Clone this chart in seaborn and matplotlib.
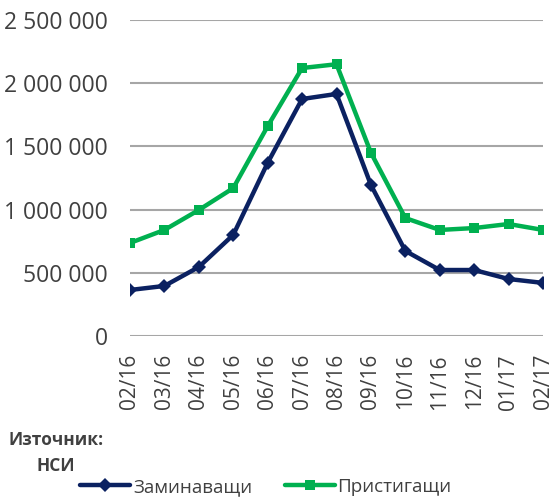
import matplotlib
matplotlib.use("Agg")
import matplotlib.pyplot as plt
import seaborn as sns
import pandas as pd
from matplotlib.ticker import FuncFormatter
from matplotlib.lines import Line2D

months = ["02/16", "03/16", "04/16", "05/16", "06/16", "07/16", "08/16",
          "09/16", "10/16", "11/16", "12/16", "01/17", "02/17"]
departing = [364000, 396000, 546000, 800000, 1370000, 1875000, 1915000,
             1195000, 673000, 522000, 522000, 451000, 420000]
arriving = [736000, 839000, 997000, 1170000, 1660000, 2120000, 2150000,
            1450000, 933000, 839000, 854000, 886000, 839000]
series_names = ["Заминаващи", "Пристигащи"]
colors = ["#0b2161", "#00b050"]
y_ticks = [0, 500000, 1000000, 1500000, 2000000, 2500000]

sns.set_theme(style="white")
plt.rcParams["font.family"] = ["Open Sans", "DejaVu Sans"]

df = pd.DataFrame({
    "x": list(range(len(months))) * 2,
    "value": departing + arriving,
    "series": [series_names[0]] * len(months) + [series_names[1]] * len(months),
})

fig = plt.figure(figsize=(5.59, 4.97), dpi=100)
ax = fig.add_axes([130 / 559, 1 - 336 / 497, (543 - 130) / 559, (336 - 20) / 497])

sns.lineplot(data=df, x="x", y="value", hue="series", style="series",
             palette=colors, markers=["D", "s"], dashes=False,
             linewidth=3.2, markersize=7, markeredgewidth=0,
             ax=ax, legend=False)

ax.set_xlim(0, len(months) - 1)
ax.set_ylim(0, 2500000)
ax.set_yticks(y_ticks)
ax.yaxis.set_major_formatter(FuncFormatter(lambda v, p: f"{int(v):,}".replace(",", " ")))
ax.set_xticks(range(len(months)))
ax.set_xticklabels(months, rotation=90)
ax.grid(axis="y", color="#a6a6a6", linewidth=1.5)
ax.grid(axis="x", visible=False)
for s in ax.spines.values():
    s.set_visible(False)
ax.tick_params(axis="y", length=0, pad=16, labelsize=16.5, labelcolor="#404040")
ax.tick_params(axis="x", length=0, pad=13, labelsize=15, labelcolor="#404040")
ax.set_xlabel("")
ax.set_ylabel("")

fig.text(56 / 559, 1 - 453 / 497, "Източник:\nНСИ", ha="center", va="center",
         fontsize=12.5, fontweight="bold", color="#404040", linespacing=1.6)

handles = [Line2D([0], [0], color=colors[0], lw=3.2, marker="D", markersize=7, markeredgewidth=0),
           Line2D([0], [0], color=colors[1], lw=3.2, marker="s", markersize=7, markeredgewidth=0)]
fig.legend(handles, series_names, loc="center", bbox_to_anchor=(266 / 559, 1 - 487 / 497),
           ncol=2, frameon=False, fontsize=13.5, handlelength=2.65, handletextpad=0.15,
           columnspacing=1.75, labelcolor="#404040")

fig.savefig("out.png", dpi=100)
